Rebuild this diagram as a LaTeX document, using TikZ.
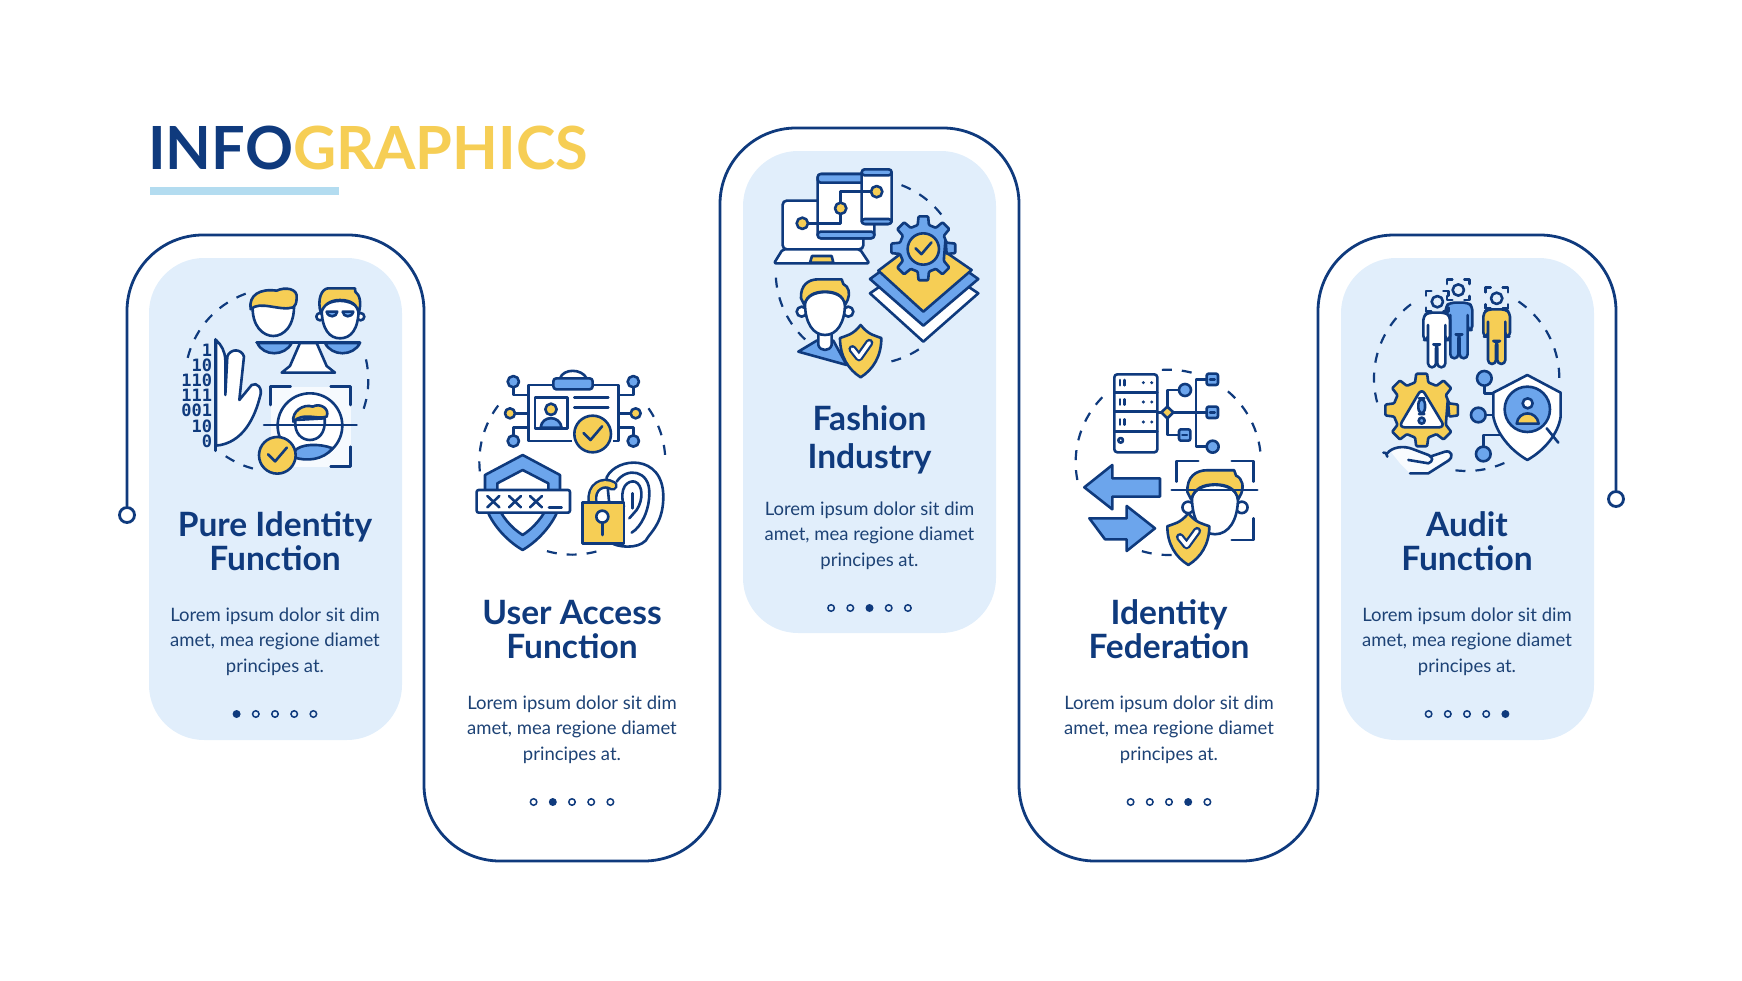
\documentclass[tikz,border=0pt]{standalone}
\usepackage{fontspec}
\setmainfont{Lato}
\newfontfamily\digitfont{DejaVu Sans Mono}
\usepackage{xcolor}
\definecolor{navy}{HTML}{0F3A7D}
\definecolor{inkblue}{HTML}{1D4275}
\definecolor{gold}{HTML}{F6CE55}
\definecolor{midblue}{HTML}{6CA5EC}
\definecolor{paleblue}{HTML}{E1EEFB}
\definecolor{rulecyan}{HTML}{B3DCF0}

\tikzset{
  iconat/.style 2 args={shift={(#1,#2)}, x=0.3333pt, y=-0.3333pt},
  iconline/.style={draw=navy, line width=2.6pt, line join=round, line cap=round},
  fillgold/.style={iconline, fill=gold},
  fillblue/.style={iconline, fill=midblue},
  fillwhite/.style={iconline, fill=white},
  ringline/.style={draw=navy, line width=2.2pt, dash pattern=on 10pt off 10pt},
  panelbox/.style={fill=paleblue, rounded corners=55pt, minimum width=253pt, minimum height=482pt, inner sep=0pt},
  headtext/.style={font=\fontsize{33.5}{34}\selectfont\bfseries, text=navy, align=center, inner sep=0pt},
  bodytext/.style={font=\fontsize{18.5}{25.3}\selectfont, text=inkblue, align=center, inner sep=0pt},
  dotfull/.style={circle, fill=navy, inner sep=0pt, minimum size=8pt},
  dotopen/.style={circle, draw=navy, line width=1.5pt, fill=none, inner sep=0pt, minimum size=6.5pt},
  enddot/.style={circle, draw=navy, line width=2.8pt, fill=white, inner sep=0pt, minimum size=15pt},
}

\newcommand{\ringarc}[5]{\draw[ringline] ({#1+#3*cos(#4)},{#2+#3*sin(#4)}) arc[start angle=#4,end angle=#5,radius=#3];}
\newcommand{\tickcircle}[3]{%
  \draw[fillgold] (#1,#2) circle[radius=#3];
  \draw[iconline] ({#1-0.5*#3},{#2-0.05*#3}) -- ({#1-0.12*#3},{#2+0.33*#3}) -- ({#1+0.52*#3},{#2-0.42*#3});}
\newcommand{\gearwheel}[6]{%
  \draw[#6, rounded corners=1pt] ({#1+#4*cos(-180/#5)},{#2+#4*sin(-180/#5)})
    \foreach \k [evaluate=\k as \a using \k*360/#5] in {1,...,#5} {
      -- ({#1+#4*cos(\a-360/#5*0.3)},{#2+#4*sin(\a-360/#5*0.3)})
      -- ({#1+#3*cos(\a-360/#5*0.19)},{#2+#3*sin(\a-360/#5*0.19)})
      -- ({#1+#3*cos(\a+360/#5*0.19)},{#2+#3*sin(\a+360/#5*0.19)})
      -- ({#1+#4*cos(\a+360/#5*0.3)},{#2+#4*sin(\a+360/#5*0.3)})
    } -- cycle;}
\newcommand{\shieldcheck}[4]{%
  \draw[fillgold] (#1,#2) .. controls ({#1-.4*#3},{#2+.2*#4}) and ({#1-.7*#3},{#2+.2*#4}) .. ({#1-#3},{#2+.25*#4})
    .. controls ({#1-#3},{#2+.6*#4}) and ({#1-.6*#3},{#2+.85*#4}) .. (#1,{#2+#4})
    .. controls ({#1+.6*#3},{#2+.85*#4}) and ({#1+#3},{#2+.6*#4}) .. ({#1+#3},{#2+.25*#4})
    .. controls ({#1+.7*#3},{#2+.2*#4}) and ({#1+.4*#3},{#2+.2*#4}) .. (#1,#2) -- cycle;
  \draw[navy, line width=8pt, line cap=round, line join=round] ({#1-.4*#3},{#2+.46*#4}) -- ({#1-.08*#3},{#2+.62*#4}) -- ({#1+.42*#3},{#2+.34*#4});
  \draw[white, line width=3.5pt, line cap=round, line join=round] ({#1-.4*#3},{#2+.46*#4}) -- ({#1-.08*#3},{#2+.62*#4}) -- ({#1+.42*#3},{#2+.34*#4});}
\newcommand{\bandhead}[3]{%
  \begin{scope}[shift={(#1,#2)}, scale=#3]
  \draw[fillwhite] (-70,15) circle[radius=15];
  \draw[fillwhite] (70,15) circle[radius=15];
  \draw[fillwhite] (-60,-10) .. controls (-60,50) and (-35,85) .. (0,85) .. controls (35,85) and (60,50) .. (60,-10) .. controls (50,-55) and (-50,-55) .. (-60,-10) -- cycle;
  \draw[fillgold] (-62,-5) -- (-72,-25) .. controls (-74,-65) and (-50,-82) .. (-20,-82) -- (50,-82) -- (55,-68) .. controls (72,-60) and (76,-40) .. (68,-20) -- (60,-5) .. controls (55,-35) and (30,-45) .. (0,-45) .. controls (-30,-45) and (-55,-35) .. (-62,-5) -- cycle;
  \end{scope}}
\newcommand{\standfig}[4]{% centre x, top y, bottom y, fill
  \begin{scope}[shift={(#1,#2)}]
  \draw[iconline, fill=#4, rounded corners=4pt] (-40,82) -- (-40,10) -- (-26,0) -- (26,0) -- (40,10) -- (40,82) -- (26,82) -- (26,30) -- (26,{#3-#2}) -- (2,{#3-#2}) -- (2,95) -- (-2,95) -- (-2,{#3-#2}) -- (-26,{#3-#2}) -- (-26,30) -- (-26,82) -- cycle;
  \end{scope}}
\newcommand{\scanhead}[2]{% head with bracket corners
  \draw[iconline] ({#1-34},{#2-18}) -- ({#1-34},{#2-32}) -- ({#1-18},{#2-32});
  \draw[iconline] ({#1+18},{#2-32}) -- ({#1+34},{#2-32}) -- ({#1+34},{#2-18});
  \draw[iconline] ({#1+34},{#2+18}) -- ({#1+34},{#2+30}) -- ({#1+18},{#2+30});
  \draw[iconline] ({#1-34},{#2+18}) -- ({#1-34},{#2+30}) -- ({#1-18},{#2+30});
  \draw[iconline] (#1,#2) circle[radius=17];}
\newcommand{\stepdots}[4]{%
  \foreach \k in {1,...,5} {
    \ifnum\k=#3 \def\dotsty{dotfull}\else\def\dotsty{dotopen}\fi
    \node[\dotsty] (#4-\k) at ({#1+(\k-3)*19.2},#2) {};
  }}

\begin{document}
\begin{tikzpicture}[x=1pt, y=-1pt]
\useasboundingbox (0,0) rectangle (1742,980);

% panels
\node[panelbox] (panelA) at (275.5,499) {};
\node[panelbox] (panelC) at (869.5,392) {};
\node[panelbox] (panelE) at (1467.5,499) {};

% heading
\node[anchor=west, inner sep=0pt, font=\fontsize{59.5}{60}\selectfont\bfseries] (banner) at (148,148) {\textcolor{navy}{INFO}\textcolor{gold}{GRAPHICS}};
\node[fill=rulecyan, inner sep=0pt, minimum width=189pt, minimum height=8pt] (bannerrule) at (244.5,191) {};

% snake outline
\node[enddot] (startdot) at (127,515) {};
\node[enddot] (stopdot) at (1616,499) {};
\draw[navy, line width=2.8pt, rounded corners=76pt] (startdot) -- (127,235) -- (424,235) -- (424,861) -- (720,861) -- (720,128) -- (1019,128) -- (1019,861) -- (1318,861) -- (1318,235) -- (1616,235) -- (stopdot);

% titles and text
\node[headtext] (titleA) at (275,541.5) {Pure Identity\\Function};
\node[headtext] (titleB) at (572,629.5) {User Access\\Function};
\node[headtext, font=\fontsize{33.5}{38}\selectfont\bfseries] (titleC) at (869.5,439.5) {Fashion\\Industry};
\node[headtext] (titleD) at (1169,629.5) {Identity\\Federation};
\node[headtext] (titleE) at (1467,541.5) {Audit\\Function};
\node[bodytext] (textA) at (275,641.5) {Lorem ipsum dolor sit dim\\amet, mea regione diamet\\principes at.};
\node[bodytext] (textB) at (572,729.5) {Lorem ipsum dolor sit dim\\amet, mea regione diamet\\principes at.};
\node[bodytext] (textC) at (869.5,535.5) {Lorem ipsum dolor sit dim\\amet, mea regione diamet\\principes at.};
\node[bodytext] (textD) at (1169,729.5) {Lorem ipsum dolor sit dim\\amet, mea regione diamet\\principes at.};
\node[bodytext] (textE) at (1467,641.5) {Lorem ipsum dolor sit dim\\amet, mea regione diamet\\principes at.};

% step dots
\stepdots{275}{714}{1}{dotsA}
\stepdots{572}{802}{2}{dotsB}
\stepdots{869.5}{608}{3}{dotsC}
\stepdots{1169}{802}{4}{dotsD}
\stepdots{1467}{714}{5}{dotsE}

% icon 1
\begin{scope}[iconat={120}{220}]
\ringarc{470}{480}{275}{194}{253}
\ringarc{470}{480}{275}{-13}{24}
\ringarc{470}{480}{275}{105}{125}
\draw[fillwhite] (398,255) .. controls (395,320) and (430,348) .. (460,348) .. controls (490,348) and (525,320) .. (522,250) -- cycle;
\draw[fillgold] (392,268) .. controls (385,225) and (420,205) .. (470,212) .. controls (495,200) and (535,205) .. (530,235) .. controls (530,250) and (525,258) .. (520,262) .. controls (480,275) and (420,240) .. (392,268) -- cycle;
\draw[fillwhite] (600,290) circle[radius=11];
\draw[fillwhite] (722,290) circle[radius=11];
\draw[fillwhite] (605,265) .. controls (605,330) and (630,355) .. (660,355) .. controls (692,355) and (716,330) .. (716,265) .. controls (690,235) and (630,235) .. (605,265) -- cycle;
\draw[fillgold] (603,280) .. controls (590,240) and (605,205) .. (625,205) -- (705,205) -- (706,215) .. controls (720,225) and (725,250) .. (716,280) .. controls (712,255) and (695,240) .. (660,240) .. controls (630,240) and (610,255) .. (603,280) -- cycle;
\draw[fillblue] (620,275) -- (652,275) .. controls (650,292) and (625,295) .. (620,275) -- cycle;
\draw[fillblue] (668,275) -- (700,275) .. controls (695,295) and (670,292) .. (668,275) -- cycle;
\draw[fillblue] (412,369) .. controls (430,410) and (495,410) .. (515,369) -- cycle;
\draw[fillblue] (615,369) .. controls (635,410) and (700,410) .. (720,369) -- cycle;
\draw[fillwhite] (540,369) -- (590,369) -- (620,438) -- (645,458) -- (485,458) -- (510,438) -- cycle;
\draw[iconline, line width=3pt] (410,368) -- (720,368);
% hand
\draw[fillwhite] (288,360) .. controls (305,375) and (315,395) .. (316,420) -- (316,525) -- (322,410) .. controls (330,385) and (365,385) .. (372,410) -- (358,540) -- (395,495) .. controls (410,485) and (430,505) .. (420,530) .. controls (405,590) and (370,670) .. (288,677) -- cycle;
\draw[iconline, line width=3pt] (288,358) -- (288,692);
\node[font=\digitfont\bfseries\fontsize{17}{15.2}\selectfont, text=navy, align=right, anchor=east, inner sep=0pt] (digitsA) at (277,527) {1\\10\\110\\111\\001\\10\\0};
% face scan
\fill[white!70!paleblue] (452,500) rectangle (692,740);
\draw[iconline] (512,500) -- (452,500) -- (452,555);
\draw[iconline] (632,500) -- (692,500) -- (692,555);
\draw[iconline] (692,680) -- (692,740) -- (632,740);
\draw[fillwhite] (570,617) circle[radius=97];
\draw[fillblue] (522,695) .. controls (540,670) and (600,670) .. (638,685) .. controls (610,720) and (560,725) .. (522,712) -- cycle;
\draw[fillwhite] (526,600) .. controls (522,640) and (545,660) .. (570,660) .. controls (595,660) and (618,640) .. (614,595) -- cycle;
\draw[fillgold] (520,605) .. controls (515,575) and (550,550) .. (578,560) .. controls (600,548) and (630,565) .. (620,590) .. controls (590,600) and (550,575) .. (520,605) -- cycle;
\draw[iconline] (432,615) -- (710,615);
\tickcircle{472}{706}{55}
\end{scope}

% icon 2
\begin{scope}[iconat={440}{340}]
\ringarc{397}{365}{279}{174}{221}
\ringarc{397}{365}{279}{-35}{-2}
\ringarc{397}{365}{279}{75}{109}
\draw[iconline] (220,142) -- (220,165) -- (265,165);
\draw[iconline] (225,220) -- (265,220);
\draw[iconline] (220,287) -- (220,262) -- (265,262);
\draw[iconline] (580,142) -- (580,165) -- (535,165);
\draw[iconline] (572,220) -- (535,220);
\draw[iconline] (580,287) -- (580,262) -- (535,262);
\draw[fillblue] (220,125) circle[radius=17];
\draw[fillgold] (210,220) circle[radius=15];
\draw[fillblue] (220,303) circle[radius=17];
\draw[fillblue] (580,125) circle[radius=17];
\draw[fillgold] (587,220) circle[radius=15];
\draw[fillblue] (580,303) circle[radius=17];
\draw[iconline] (360,115) .. controls (370,85) and (425,85) .. (440,115);
\draw[fillwhite] (265,135) rectangle (535,303);
\draw[fillblue, rounded corners=3pt] (340,115) rectangle (458,148);
\draw[fillwhite] (285,173) rectangle (383,265);
\draw[fillblue] (302,263) .. controls (305,225) and (360,225) .. (365,263) -- cycle;
\draw[fillgold] (333,208) circle[radius=17];
\draw[iconline] (403,173) -- (505,173);
\draw[iconline] (403,203) -- (505,203);
\fill[white] (395,296) rectangle (520,312);
\tickcircle{458}{282}{55}
% shield and password
\draw[fillblue] (248,345) -- (360,405) -- (360,490) .. controls (350,540) and (300,600) .. (248,630) .. controls (195,600) and (145,540) .. (135,490) -- (135,405) -- cycle;
\draw[fillwhite] (248,390) -- (325,430) -- (325,490) .. controls (315,525) and (280,565) .. (248,585) .. controls (215,565) and (180,525) .. (172,490) -- (172,430) -- cycle;
\draw[fillwhite, rounded corners=2pt] (110,450) rectangle (390,518);
\foreach \kx in {160,225,288} {
  \draw[iconline] ({\kx-18},468) -- ({\kx+18},502);
  \draw[iconline] ({\kx-18},502) -- ({\kx+18},468);
}
\draw[iconline] (327,502) -- (365,502);
% ear and lock
\draw[fillwhite] (500,412) .. controls (530,350) and (670,340) .. (670,470) .. controls (670,540) and (640,570) .. (625,590) .. controls (610,625) and (550,625) .. (520,612) -- cycle;
\draw[iconline] (530,425) .. controls (560,380) and (630,390) .. (628,460) .. controls (628,510) and (605,560) .. (575,578);
\draw[iconline] (552,500) .. controls (535,440) and (565,420) .. (585,425) .. controls (610,435) and (610,480) .. (590,510) -- (568,535);
\draw[iconline] (577,460) -- (577,505);
\draw[line width=10pt, navy, line cap=round] (458,487) .. controls (450,440) and (490,420) .. (518,437);
\draw[line width=5pt, gold, line cap=round] (458,485) .. controls (450,440) and (490,420) .. (518,437);
\draw[fillgold] (428,487) rectangle (552,610);
\draw[fillwhite] (487,530) circle[radius=18];
\draw[iconline] (487,548) -- (487,585);
\end{scope}

% icon 3
\begin{scope}[iconat={750}{150}]
\ringarc{355}{365}{278}{-69}{-36}
\ringarc{355}{365}{278}{133}{181}
\ringarc{355}{365}{278}{57}{76}
\draw[fillwhite, rounded corners=4pt] (98,298) -- (98,152) -- (340,152) -- (340,298) -- cycle;
\draw[fillwhite, rounded corners=2pt] (98,298) -- (330,298) -- (358,340) -- (72,340) -- cycle;
\draw[fillgold] (180,338) -- (186,318) -- (245,318) -- (250,338) -- cycle;
\draw[fillwhite, rounded corners=4pt] (203,72) rectangle (373,265);
\draw[fillblue, rounded corners=3pt] (203,72) rectangle (373,98);
\draw[fillblue, rounded corners=3pt] (203,245) rectangle (373,265);
\draw[fillwhite, rounded corners=4pt] (335,58) rectangle (425,222);
\draw[fillblue, rounded corners=3pt] (335,58) rectangle (425,76);
\draw[fillblue, rounded corners=3pt] (335,207) rectangle (425,222);
\draw[iconline] (175,220) -- (272,220) -- (272,125) -- (362,125);
\draw[fillgold] (157,220) circle[radius=17];
\draw[fillgold] (272,175) circle[radius=17];
\draw[fillgold] (380,125) circle[radius=17];
% layers and gear
\draw[fillwhite] (360,430) -- (520,320) -- (685,430) -- (520,575) -- cycle;
\draw[fillblue] (360,387) -- (520,270) -- (685,387) -- (520,527) -- cycle;
\draw[fillgold] (385,362) -- (520,260) -- (665,360) -- (520,485) -- cycle;
\gearwheel{520}{295}{97}{72}{8}{fillblue}
\tickcircle{520}{297}{47}
% person
\draw[fillblue] (145,605) -- (200,572) -- (250,572) -- (290,645) -- cycle;
\draw[fillwhite] (205,550) -- (205,585) .. controls (210,605) and (240,605) .. (245,585) -- (245,550) -- cycle;
\bandhead{225}{470}{1}
\shieldcheck{332}{525}{62}{157}
\end{scope}

% icon 4
\begin{scope}[iconat={1050}{350}]
\ringarc{355}{337}{278}{169}{229}
\ringarc{355}{337}{278}{266}{287}
\ringarc{355}{337}{278}{-50}{-4}
\ringarc{355}{337}{278}{88}{109}
\draw[fillwhite, rounded corners=3pt] (193,73) rectangle (322,307);
\draw[iconline] (193,127) -- (322,127);
\draw[iconline] (193,185) -- (322,185);
\draw[iconline] (193,245) -- (322,245);
\foreach \ky in {98,156,216} {
  \draw[iconline] (210,{\ky-8}) -- (210,{\ky+8});
  \draw[iconline] (224,{\ky-8}) -- (224,{\ky+8});
  \fill[navy] (280,\ky) circle[radius=5];
  \fill[navy] (305,\ky) circle[radius=5];
}
\draw[iconline] (212,271) circle[radius=7];
\draw[iconline] (322,187) -- (470,187);
\draw[iconline] (385,120) -- (352,120) -- (352,255) -- (385,255);
\draw[iconline] (470,88) -- (438,88) -- (438,290) -- (470,290);
\draw[fillgold] (352,170) -- (370,187) -- (352,205) -- (334,187) -- cycle;
\draw[fillblue] (405,120) circle[radius=18];
\draw[fillblue, rounded corners=2pt] (387,238) rectangle (421,272);
\draw[iconline] (397,255) -- (411,255);
\foreach \ky in {88,187} {
  \draw[fillblue, rounded corners=2pt] (470,{\ky-17}) rectangle (504,{\ky+17});
  \draw[iconline] (480,\ky) -- (494,\ky);
}
\draw[fillblue] (488,290) circle[radius=18];
% arrows
\draw[fillblue] (330,385) -- (187,385) -- (187,345) -- (103,412) -- (187,478) -- (187,440) -- (330,440) -- cycle;
\draw[fillblue] (118,505) -- (230,505) -- (230,468) -- (315,535) -- (230,603) -- (230,568) -- (165,568) -- cycle;
% scan and person
\draw[iconline] (445,333) -- (380,333) -- (380,395);
\draw[iconline] (545,333) -- (610,333) -- (610,395);
\draw[iconline] (610,505) -- (610,570) -- (545,570);
\bandhead{495}{455}{1.15}
\draw[iconline] (365,420) -- (622,420);
\shieldcheck{415}{490}{63}{155}
\end{scope}

% icon 5
\begin{scope}[iconat={1350}{260}]
\ringarc{350}{355}{278}{165}{238}
\ringarc{350}{355}{278}{-56}{3}
\ringarc{350}{355}{278}{66}{99}
\standfig{327}{128}{295}{midblue}
\standfig{260}{158}{322}{white}
\standfig{440}{148}{312}{gold}
\scanhead{325}{90}
\scanhead{262}{125}
\scanhead{440}{115}
% warning gear
\gearwheel{215}{450}{110}{85}{8}{fillgold}
\draw[fillwhite, rounded corners=6pt] (215,385) -- (285,502) -- (146,502) -- cycle;
\draw[fillblue, rounded corners=6pt] (205,415) rectangle (225,462);
\draw[fillblue] (215,482) circle[radius=9];
% open hand
\fill[white!75!paleblue] (120,572) .. controls (135,558) and (170,558) .. (245,590) -- (300,575) -- (305,590) -- (235,640) -- (180,640) -- (150,610) -- cycle;
\draw[iconline] (100,578) -- (112,580) .. controls (125,562) and (160,555) .. (190,568) -- (235,585) .. controls (250,590) and (250,605) .. (235,610) -- (175,600);
\draw[iconline] (240,590) -- (285,575) .. controls (305,570) and (312,590) .. (295,602) -- (235,640) -- (180,640);
\draw[iconline] (108,580) -- (112,590);
% shield and magnifier
\draw[iconline] (403,377) -- (403,400) -- (445,400);
\draw[iconline] (407,465) -- (445,465);
\draw[iconline] (400,560) -- (400,525) -- (455,525);
\draw[fillwhite] (532,345) -- (632,398) -- (632,470) .. controls (625,520) and (585,570) .. (532,600) .. controls (480,570) and (440,520) .. (430,470) -- (430,398) -- cycle;
\draw[fillblue] (403,355) circle[radius=22];
\draw[fillblue] (385,465) circle[radius=22];
\draw[fillblue] (400,582) circle[radius=22];
\draw[iconline] (590,505) -- (625,548);
\draw[fillblue] (532,448) circle[radius=68];
\draw[fillwhite] (533,430) circle[radius=15];
\draw[fillgold] (500,491) .. controls (505,450) and (560,450) .. (566,491) -- cycle;
\end{scope}
\end{tikzpicture}
\end{document}
